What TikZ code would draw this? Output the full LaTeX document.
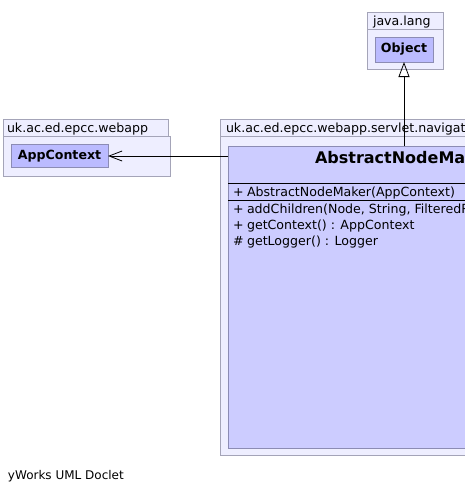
\documentclass[tikz,border=0pt]{standalone}
\usepackage{fontspec}
\setmainfont{DejaVu Sans}
\usetikzlibrary{arrows.meta, positioning}
\definecolor{pkgfill}{HTML}{EEEEFF}
\definecolor{pkgline}{HTML}{A4A4B8}
\definecolor{clsfill}{HTML}{CCCCFF}
\definecolor{clsline}{HTML}{8C8CB4}
\definecolor{reffill}{HTML}{BBBBFF}
\newcommand{\vis}[1]{\makebox[14pt][l]{#1}}

\begin{document}
\begin{tikzpicture}[x=1pt,y=-1pt,inner sep=0pt,outer sep=0pt]
    \tikzstyle{pkg}=[draw=pkgline,fill=pkgfill,line width=0.8pt]
    \tikzstyle{pkgname}=[anchor=base west,font=\fontsize{12.6}{14}\selectfont]
    \tikzstyle{ref}=[draw=clsline,fill=reffill,line width=0.8pt,font=\bfseries\fontsize{12.6}{14}\selectfont]
    \tikzstyle{member}=[anchor=base west,font=\fontsize{12.6}{14}\selectfont]

    \useasboundingbox (0,0) rectangle (465,493);
    \clip (0,0) rectangle (465,493);
    \fill[white] (0,0) rectangle (465,493);

    % package java.lang
    \draw[pkg] (367,12) rectangle (443,29);
    \draw[pkg] (367,29) rectangle (443,69);
    \node[pkgname] (langname) at (373,25) {java.lang};
    \node[ref,minimum width=58pt,minimum height=25pt] (Object) at (404,49.5) {Object};

    % package uk.ac.ed.epcc.webapp
    \draw[pkg] (3,119) rectangle (168,136);
    \draw[pkg] (3,136) rectangle (170,176);
    \node[pkgname] (webappname) at (7,132) {uk.ac.ed.epcc.webapp};
    \node[ref,minimum width=97pt,minimum height=23pt] (AppContext) at (59.5,156) {AppContext};

    % package uk.ac.ed.epcc.webapp.servlet.navigation
    \draw[pkg] (220,119) rectangle (640,136);
    \draw[pkg] (220,136) rectangle (650,455);
    \node[pkgname] (navname) at (226,132) {uk.ac.ed.epcc.webapp.servlet.navigation};

    % class AbstractNodeMaker
    \draw[draw=clsline,fill=clsfill,line width=0.8pt] (228,146) rectangle (640,448);
    \coordinate (Maker) at (404,146);
    \coordinate (MakerW) at (228,156);
    \node[anchor=base west,font=\bfseries\fontsize{16}{18}\selectfont] (makername) at (315,163) {AbstractNodeMaker};
    \draw[black,line width=0.8pt] (228,183) -- (640,183);
    \draw[black,line width=0.8pt] (228,200) -- (640,200);
    \node[member] (ctor) at (233,196) {\vis{+}AbstractNodeMaker(AppContext)};
    \node[member] (m1) at (233,213) {\vis{+}addChildren(Node, String, FilteredResult)};
    \node[member] (m2) at (233,229) {\vis{+}getContext() : AppContext};
    \node[member] (m3) at (233,245) {\vis{\#}getLogger() : Logger};

    \draw[-{Triangle[open,length=15pt,width=11pt]},line width=0.8pt] (Maker) -- (Object.south);
    \draw[-{Straight Barb[length=13pt,width=10pt]},line width=0.8pt] (MakerW) -- (AppContext.east);

    \node[anchor=base west,font=\fontsize{12}{14}\selectfont] (footer) at (8,479) {yWorks UML Doclet};
\end{tikzpicture}
\end{document}
